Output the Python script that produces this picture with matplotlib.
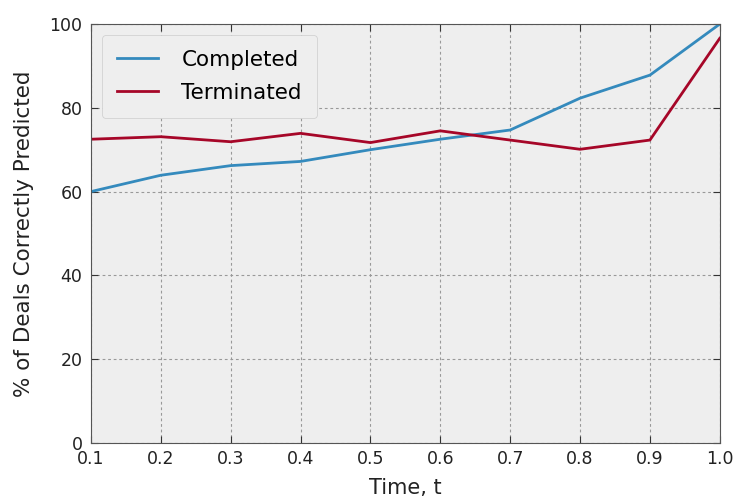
import numpy as np
import matplotlib
matplotlib.use("Agg")
import matplotlib.pyplot as plt

# === Data ===
time_t = [0.1, 0.2, 0.3, 0.4, 0.5, 0.6, 0.7, 0.8, 0.9, 1.0]
completed = [60.0, 63.9, 66.2, 67.2, 70.0, 72.5, 74.7, 82.3, 87.8, 100.0]
terminated = [72.5, 73.1, 71.9, 73.9, 71.7, 74.5, 72.3, 70.1, 72.3, 96.6]
x_ticks = [0.1, 0.2, 0.3, 0.4, 0.5, 0.6, 0.7, 0.8, 0.9, 1.0]
y_ticks = [0, 20, 40, 60, 80, 100]

plt.style.use("bmh")
plt.rcParams['font.family'] = ['DejaVu Sans']

fig = plt.figure(figsize=(7.33, 5.0), dpi=100)
ax = fig.add_axes([0.124, 0.114, 0.858, 0.838])
ax.set_facecolor("#eeeeee")

ax.plot(time_t, completed, color="#348ABD", lw=2, label="Completed")
ax.plot(time_t, terminated, color="#A60628", lw=2, label="Terminated")

ax.set_xlim(0.1, 1.0)
ax.set_ylim(0, 100)
ax.set_xticks(x_ticks)
ax.set_xticklabels([f"{v:.1f}" for v in x_ticks])
ax.set_yticks(y_ticks)

ax.grid(True, color="#999999", linestyle=(0, (2.5, 2.5)), linewidth=0.8)
for s in ax.spines.values():
    s.set_visible(True)
    s.set_color("#555555")
    s.set_linewidth(0.8)

ax.tick_params(direction="in", top=True, right=True, length=5, width=0.8,
               color="#333333", labelsize=12.5, labelcolor="#222222")
ax.tick_params(axis="y", pad=6)
ax.tick_params(axis="x", pad=5)

ax.set_xlabel("Time, t", fontsize=15, color="#222222", labelpad=7)
ax.set_ylabel("% of Deals Correctly Predicted", fontsize=15.5, color="#222222", labelpad=11)

leg = ax.legend(loc="upper left", fontsize=15.5, fancybox=True,
                facecolor="#eeeeee", edgecolor="#cccccc", handlelength=1.9,
                handletextpad=1.1, borderpad=0.7, labelspacing=0.6, framealpha=1.0)

fig.savefig("out.png", dpi=100)
